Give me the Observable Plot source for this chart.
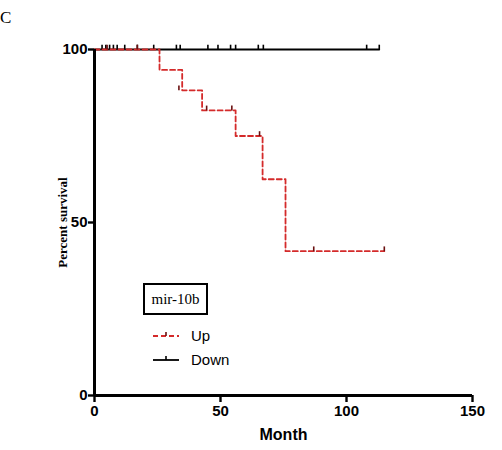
<!DOCTYPE html>
<html>
<head>
<meta charset="utf-8">
<script src="https://cdn.jsdelivr.net/npm/d3@7"></script>
<script src="https://cdn.jsdelivr.net/npm/@observablehq/plot@0.6"></script>
<style>
  body { margin: 0; background: #fff; }
  #wrap { position: relative; width: 502px; height: 450px; }
  #wrap svg g[aria-label^="x-axis"] path, #wrap svg g[aria-label^="y-axis"] path,
  #wrap svg g[aria-label^="x-axis"] line, #wrap svg g[aria-label^="y-axis"] line { stroke-width: 2.4px; }
  .panel { position: absolute; left: 0px; top: 8px; font-family: "Liberation Serif", serif; font-size: 17px; }
  .legbox { position: absolute; left: 143px; top: 283px; width: 61px; height: 28px; border: 2px solid #000;
    font-family: "Liberation Serif", serif; font-size: 15px; line-height: 28px; text-align: center; }
  .legitem { position: absolute; left: 151px; font-family: "Liberation Sans", Arial, sans-serif; font-size: 15px; }
  .legitem svg { vertical-align: middle; }
  .legitem span { position: absolute; left: 40px; top: 0px; line-height: 20px; }
</style>
</head>
<body>
<div id="wrap"></div>
<script>
// Kaplan–Meier step data (months, percent survival)
const upTimes = [0, 25.8, 34.8, 42.7, 56.0, 66.7, 75.8, 115];
const upSurv  = [100, 94.1, 88.2, 82.4, 75.0, 62.5, 41.7, 41.7];
const upCensorTimes = [5, 17, 33.5, 44.5, 54.5, 65.5, 87, 115];
const upCensorSurv  = [100, 100, 88.2, 82.4, 82.4, 75.0, 41.7, 41.7];

const downTimes = [0, 113];
const downSurv  = [100, 100];
const downCensorTimes = [3, 4.5, 6, 7.5, 9, 12, 17, 23.5, 32.5, 34, 45, 49, 54, 56, 65, 67, 108, 113];

const xTicks = [0, 50, 100, 150];
const yTicks = [0, 50, 100];
const groups = ["Up", "Down"];
const groupColors = ["#d42a2a", "#000000"];
const legendTitle = "mir-10b";

const up = upTimes.map((t, i) => ({t, s: upSurv[i]}));
const down = downTimes.map((t, i) => ({t, s: downSurv[i]}));
const upC = upCensorTimes.map((t, i) => ({t, s: upCensorSurv[i]}));
const downC = downCensorTimes.map(t => ({t, s: 100}));

// upward censor tick symbol
const tickUp = { draw(ctx, size) { const h = Math.sqrt(size / Math.PI) * 2; ctx.moveTo(0, 0); ctx.lineTo(0, -h); } };

const chart = Plot.plot({
  width: 502, height: 450,
  marginLeft: 94, marginRight: 30, marginTop: 49, marginBottom: 55,
  style: { fontFamily: "Liberation Sans, Arial, sans-serif", fontSize: "15px", fontWeight: "bold", color: "#000", background: "#fff" },
  x: { domain: [0, 150], ticks: xTicks, tickSize: 7, tickPadding: 3, label: null },
  y: { domain: [0, 100], ticks: yTicks, tickSize: 6, tickPadding: 1, label: null },
  marks: [
    Plot.line(down, { x: "t", y: "s", curve: "step-after", stroke: groupColors[1], strokeWidth: 1.8 }),
    Plot.dot(downC, { x: "t", y: "s", symbol: tickUp, r: 2.4, stroke: groupColors[1], fill: "none", strokeWidth: 1.6 }),
    Plot.line(up, { x: "t", y: "s", curve: "step-after", stroke: groupColors[0], strokeWidth: 1.8, strokeDasharray: "5,3" }),
    Plot.dot(upC, { x: "t", y: "s", symbol: tickUp, r: 2.4, stroke: "#6a1010", fill: "none", strokeWidth: 1.6 }),
    Plot.ruleX([0], { stroke: "#000", strokeWidth: 3 }),
    Plot.ruleY([0], { stroke: "#000", strokeWidth: 3 }),
    Plot.text(["Percent survival"], { frameAnchor: "left", textAnchor: "middle", rotate: -90, dx: -32, fontFamily: "Liberation Serif, serif", fontWeight: "bold", fontSize: 13 }),
    Plot.text(["Month"], { frameAnchor: "bottom", dy: 44, fontFamily: "Liberation Sans, Arial, sans-serif", fontWeight: "bold", fontSize: 16 })
  ]
});

const wrap = document.getElementById("wrap");
wrap.appendChild(chart);

// panel label
const p = document.createElement("div");
p.className = "panel"; p.textContent = "C"; wrap.appendChild(p);

// legend
const box = document.createElement("div");
box.className = "legbox"; box.textContent = legendTitle; wrap.appendChild(box);
const legTops = [326, 350];
groups.forEach((g, i) => {
  const it = document.createElement("div");
  it.className = "legitem"; it.style.top = legTops[i] + "px";
  const dash = i === 0 ? 'stroke-dasharray="5,3"' : '';
  it.innerHTML = `<svg width="30" height="20"><line x1="2" x2="28" y1="10" y2="10" stroke="${groupColors[i]}" stroke-width="1.8" ${dash}/><line x1="15" x2="15" y1="10" y2="6" stroke="${i === 0 ? '#6a1010' : '#000'}" stroke-width="1.6"/></svg><span>${g}</span>`;
  wrap.appendChild(it);
});
</script>
</body>
</html>
